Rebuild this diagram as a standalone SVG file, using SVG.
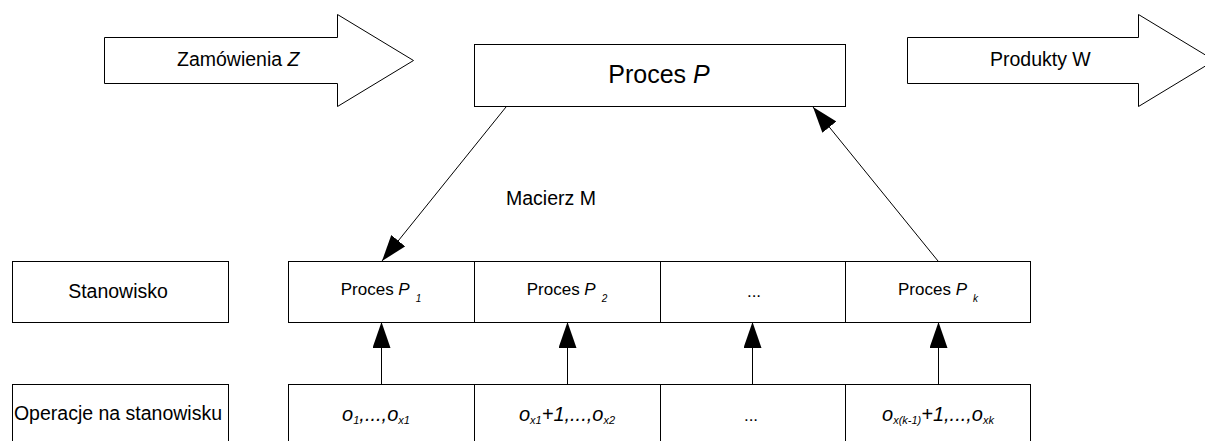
<svg xmlns="http://www.w3.org/2000/svg" width="1205" height="441" viewBox="0 0 1205 441">
<style>
.box{fill:#fff;stroke:#000;stroke-width:1}
.lbl{font-family:"Liberation Sans",Arial,sans-serif;font-size:19.5px;fill:#000}
.cell{font-family:"Liberation Sans",Arial,sans-serif;font-size:17px;fill:#000}
.op{font-family:"Liberation Sans",Arial,sans-serif;font-size:20px;font-style:italic;fill:#000}
.big{font-family:"Liberation Sans",Arial,sans-serif;font-size:25px;fill:#000}
.conn{stroke:#000;stroke-width:1;fill:none;marker-end:url(#ah)}
</style>
<defs>
<marker id="ah" markerUnits="userSpaceOnUse" viewBox="0 0 26 18" refX="26" refY="9" markerWidth="26" markerHeight="18" orient="auto">
<path d="M0,0 L26,9 L0,18 z" fill="#000"/>
</marker>
</defs>
<rect width="1205" height="441" fill="#fff"/>
<g id="zamowienia">
<polygon class="box" points="104.5,37.5 337.5,37.5 337.5,14.5 413.5,60.5 337.5,106.5 337.5,83.5 104.5,83.5"/>
<text class="lbl" x="177" y="66">Zamówienia <tspan font-style="italic">Z</tspan></text>
</g>
<g id="produkty">
<polygon class="box" points="907.5,37.5 1138.5,37.5 1138.5,14.5 1214.5,60.5 1138.5,106.5 1138.5,83.5 907.5,83.5"/>
<text class="lbl" x="990" y="66">Produkty W</text>
</g>
<g id="proces-p">
<rect class="box" x="474.5" y="44.5" width="371" height="62"/>
<text class="big" x="659" y="83" text-anchor="middle">Proces <tspan font-style="italic">P</tspan></text>
</g>
<g id="macierz">
<text class="lbl" x="506" y="205">Macierz M</text>
</g>
<g id="stanowisko">
<rect class="box" x="12.5" y="261.5" width="216" height="61"/>
<text class="lbl" x="118" y="298" text-anchor="middle">Stanowisko</text>
</g>
<g id="p1">
<rect class="box" x="288.5" y="261.5" width="186" height="61"/>
<text class="cell" x="381" y="295" text-anchor="middle">Proces <tspan font-style="italic">P</tspan><tspan font-style="italic" font-size="10" dx="6" dy="7">1</tspan></text>
</g>
<g id="p2">
<rect class="box" x="474.5" y="261.5" width="186" height="61"/>
<text class="cell" x="567" y="295" text-anchor="middle">Proces <tspan font-style="italic">P</tspan><tspan font-style="italic" font-size="10" dx="6" dy="7">2</tspan></text>
</g>
<g id="pdots">
<rect class="box" x="660.5" y="261.5" width="185" height="61"/>
<text class="cell" x="754" y="297" text-anchor="middle">...</text>
</g>
<g id="pk">
<rect class="box" x="845.5" y="261.5" width="185" height="61"/>
<text class="cell" x="938" y="295" text-anchor="middle">Proces <tspan font-style="italic">P</tspan><tspan font-style="italic" font-size="10" dx="6" dy="7">k</tspan></text>
</g>
<g id="operacje">
<rect class="box" x="12.5" y="384.5" width="216" height="61"/>
<text class="lbl" x="118" y="420" text-anchor="middle">Operacje na stanowisku</text>
</g>
<g id="o1">
<rect class="box" x="288.5" y="384.5" width="186" height="61"/>
<text class="op" x="376" y="421" text-anchor="middle">o<tspan font-size="11" dy="3">1</tspan><tspan dy="-3">,...,o</tspan><tspan font-size="11" dy="3">x1</tspan></text>
</g>
<g id="o2">
<rect class="box" x="474.5" y="384.5" width="186" height="61"/>
<text class="op" x="567" y="421" text-anchor="middle">o<tspan font-size="11" dy="3">x1</tspan><tspan dy="-3">+1,...,o</tspan><tspan font-size="11" dy="3">x2</tspan></text>
</g>
<g id="odots">
<rect class="box" x="660.5" y="384.5" width="185" height="61"/>
<text class="cell" x="751" y="421" text-anchor="middle">...</text>
</g>
<g id="ok">
<rect class="box" x="845.5" y="384.5" width="185" height="61"/>
<text class="op" x="938" y="421" text-anchor="middle">o<tspan font-size="11" dy="3">x(k-1)</tspan><tspan dy="-3">+1,...,o</tspan><tspan font-size="11" dy="3">xk</tspan></text>
</g>
<g id="connectors">
<line class="conn" x1="506" y1="107" x2="382" y2="261"/>
<line class="conn" x1="938" y1="261" x2="813" y2="107"/>
<line class="conn" x1="381.5" y1="384" x2="381.5" y2="322"/>
<line class="conn" x1="567.5" y1="384" x2="567.5" y2="322"/>
<line class="conn" x1="752.5" y1="384" x2="752.5" y2="322"/>
<line class="conn" x1="938.5" y1="384" x2="938.5" y2="322"/>
</g>
</svg>
